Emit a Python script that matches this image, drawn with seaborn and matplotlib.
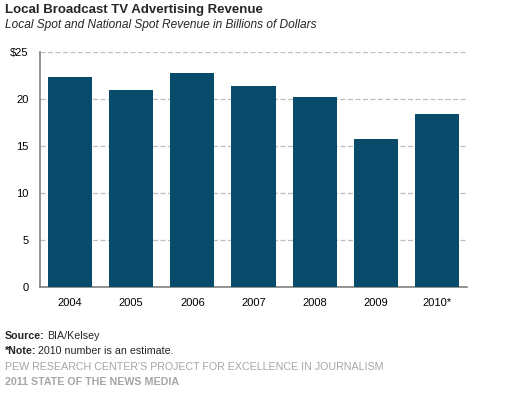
import matplotlib
matplotlib.use("Agg")
import matplotlib.pyplot as plt
import seaborn as sns
import pandas as pd

# data
years = ["2004", "2005", "2006", "2007", "2008", "2009", "2010*"]
revenue = [22.4, 21.0, 22.8, 21.4, 20.2, 15.8, 18.4]
y_ticks = [0, 5, 10, 15, 20, 25]
y_labels = ["0", "5", "10", "15", "20", "$25"]

df = pd.DataFrame({"year": years, "revenue": revenue})

sns.set_style("white")
plt.rcParams["font.family"] = ["Liberation Sans", "DejaVu Sans"]

W, H = 518, 394
fig = plt.figure(figsize=(W / 100, H / 100), dpi=100)
ax = fig.add_axes([39.5 / W, 1 - 287 / H, 428 / W, 234.6 / H])

sns.barplot(data=df, x="year", y="revenue", color="#084B6B", saturation=1,
            width=0.72, linewidth=0, ax=ax, zorder=3)

ax.set_xlim(-0.5, 6.5)
ax.set_ylim(0, 25)
ax.set_yticks(y_ticks)
ax.set_yticklabels(y_labels)
ax.set_xlabel("")
ax.set_ylabel("")
ax.yaxis.grid(True, color="#BDBDBD", linestyle=(0, (4, 2)), linewidth=0.9, zorder=0)
ax.set_axisbelow(True)
for side in ["top", "right"]:
    ax.spines[side].set_visible(False)
for side in ["left", "bottom"]:
    ax.spines[side].set_color("#808080")
    ax.spines[side].set_linewidth(1.2)
ax.tick_params(axis="both", length=0, labelsize=8, labelcolor="black")
ax.tick_params(axis="x", pad=8)
ax.tick_params(axis="y", pad=8)

# titles
fig.text(5 / W, 1 - 10 / H, "Local Broadcast TV Advertising Revenue", fontsize=9.5,
         fontweight="bold", va="center", ha="left")
fig.text(5 / W, 1 - 25 / H, "Local Spot and National Spot Revenue in Billions of Dollars",
         fontsize=8.6, style="italic", va="center", ha="left")

# footer: bold lead-in followed by plain text
renderer = fig.canvas.get_renderer()


def lead_line(y_px, lead, rest):
    t = fig.text(5 / W, 1 - y_px / H, lead, fontsize=7.7, fontweight="bold", va="center")
    w = t.get_window_extent(renderer).width
    fig.text((5 + w + 2) / W, 1 - y_px / H, rest, fontsize=7.7, va="center")


lead_line(336, "Source:", "BIA/Kelsey")
lead_line(351, "*Note:", "2010 number is an estimate.")
fig.text(5 / W, 1 - 367 / H, "PEW RESEARCH CENTER'S PROJECT FOR EXCELLENCE IN JOURNALISM",
         fontsize=7.7, color="#A6A6A6", va="center")
fig.text(5 / W, 1 - 382 / H, "2011 STATE OF THE NEWS MEDIA", fontsize=7.7,
         color="#A6A6A6", fontweight="bold", va="center")

fig.savefig("out.png", dpi=100)
